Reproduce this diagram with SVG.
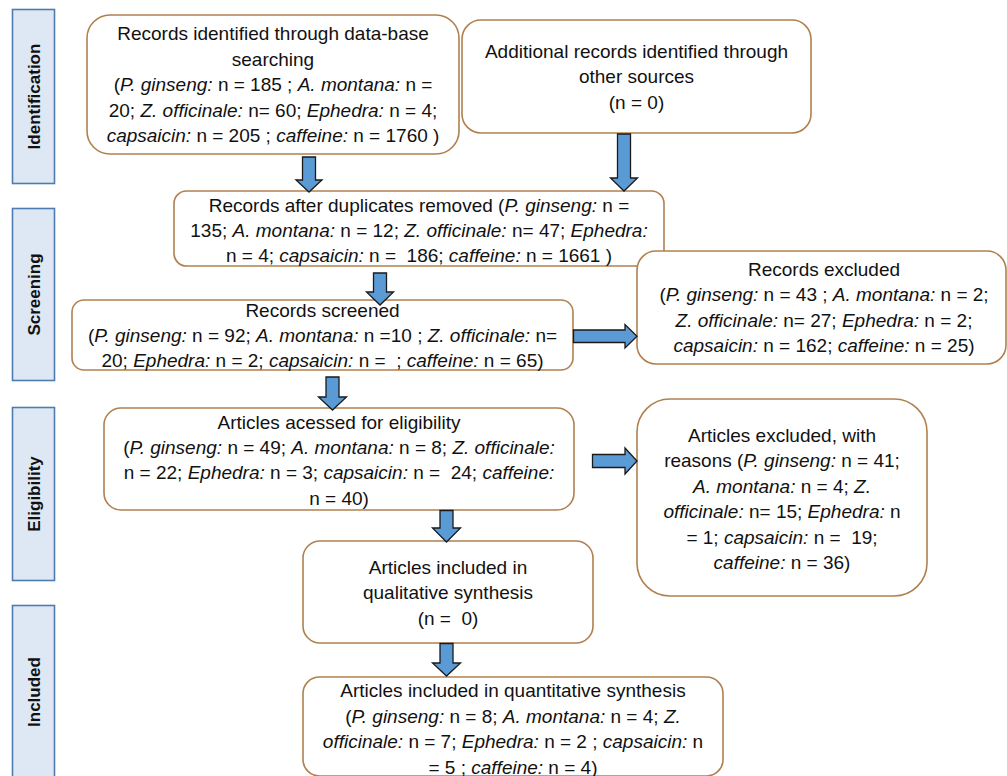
<svg xmlns="http://www.w3.org/2000/svg" width="1007" height="776" viewBox="0 0 1007 776">
<style>
.lab rect{fill:#DDE8F4;stroke:#4E7CB0;stroke-width:1.6}
.lab text{font-family:"Liberation Sans",Arial,sans-serif;font-weight:bold;font-size:17px;fill:#111;text-anchor:middle}
.box rect{fill:#fff;stroke:#B0804F;stroke-width:1.6}
.box text{font-family:"Liberation Sans",Arial,sans-serif;font-size:19px;fill:#111;text-anchor:middle;white-space:pre}
.i{font-style:italic}
.arr path{fill:#5B9BD5;stroke:#1a1a1a;stroke-width:1.3;stroke-linejoin:miter}
</style>
<rect width="1007" height="776" fill="#fff"/>
<g class="lab" id="lab-identification"><rect x="12.5" y="9.5" width="42" height="174"/><text transform="translate(40,96.5) rotate(-90)">Identification</text></g>
<g class="lab" id="lab-screening"><rect x="12.5" y="208.5" width="42" height="172"/><text transform="translate(40,294.5) rotate(-90)">Screening</text></g>
<g class="lab" id="lab-eligibility"><rect x="12.5" y="407.5" width="42" height="173"/><text transform="translate(40,494) rotate(-90)">Eligibility</text></g>
<g class="lab" id="lab-included"><rect x="12.5" y="605.5" width="42" height="180"/><text transform="translate(40,692) rotate(-90)">Included</text></g>

<g class="box" id="n-db"><rect x="87" y="15" width="372" height="139" rx="23"/>
<text x="273" y="40">Records identified through data-base</text>
<text x="273" y="65.5">searching</text>
<text x="273" y="91">(<tspan class="i">P. ginseng:</tspan> n = 185 ; <tspan class="i">A. montana:</tspan> n =</text>
<text x="273" y="116.5">20; <tspan class="i">Z. officinale:</tspan> n= 60; <tspan class="i">Ephedra:</tspan> n = 4;</text>
<text x="273" y="142"><tspan class="i">capsaicin:</tspan> n = 205 ; <tspan class="i">caffeine:</tspan> n = 1760 )</text>
</g>
<g class="box" id="n-other"><rect x="462" y="20" width="349" height="113" rx="19"/>
<text x="636.5" y="57.5">Additional records identified through</text>
<text x="636.5" y="83">other sources</text>
<text x="636.5" y="108.5">(n = 0)</text>
</g>
<g class="box" id="n-dup"><rect x="174" y="191" width="490" height="75" rx="12.5"/>
<text x="419" y="211.5">Records after duplicates removed (<tspan class="i">P. ginseng:</tspan> n =</text>
<text x="419" y="236.5">135; <tspan class="i">A. montana:</tspan> n = 12; <tspan class="i">Z. officinale:</tspan> n= 47; <tspan class="i">Ephedra:</tspan></text>
<text x="419" y="261.5">n = 4; <tspan class="i">capsaicin:</tspan> n =  186; <tspan class="i">caffeine:</tspan> n = 1661 )</text>
</g>
<g class="box" id="n-screened"><rect x="72" y="300" width="501" height="70" rx="12"/>
<text x="322.5" y="317">Records screened</text>
<text x="322.5" y="342">(<tspan class="i">P. ginseng:</tspan> n = 92; <tspan class="i">A. montana:</tspan> n =10 ; <tspan class="i">Z. officinale:</tspan> n=</text>
<text x="322.5" y="367">20; <tspan class="i">Ephedra:</tspan> n = 2; <tspan class="i">capsaicin:</tspan> n =  ; <tspan class="i">caffeine:</tspan> n = 65)</text>
</g>
<g class="box" id="n-excluded"><rect x="637" y="251" width="369" height="113" rx="19"/>
<text x="824" y="275.5">Records excluded</text>
<text x="824" y="301">(<tspan class="i">P. ginseng:</tspan> n = 43 ; <tspan class="i">A. montana:</tspan> n = 2;</text>
<text x="824" y="326.5"><tspan class="i">Z. officinale:</tspan> n= 27; <tspan class="i">Ephedra:</tspan> n = 2;</text>
<text x="824" y="352"><tspan class="i">capsaicin:</tspan> n = 162; <tspan class="i">caffeine:</tspan> n = 25)</text>
</g>
<g class="box" id="n-eligibility"><rect x="104" y="408" width="470" height="102" rx="17"/>
<text x="339" y="428.5">Articles acessed for eligibility</text>
<text x="339" y="453.5">(<tspan class="i">P. ginseng:</tspan> n = 49; <tspan class="i">A. montana:</tspan> n = 8; <tspan class="i">Z. officinale:</tspan></text>
<text x="339" y="479">n = 22; <tspan class="i">Ephedra:</tspan> n = 3; <tspan class="i">capsaicin:</tspan> n =  24; <tspan class="i">caffeine:</tspan></text>
<text x="339" y="504.5">n = 40)</text>
</g>
<g class="box" id="n-art-excluded"><rect x="637" y="399" width="290" height="197" rx="33"/>
<text x="782" y="441.5">Articles excluded, with</text>
<text x="782" y="467">reasons (<tspan class="i">P. ginseng:</tspan> n = 41;</text>
<text x="782" y="492.5"><tspan class="i">A. montana:</tspan> n = 4; <tspan class="i">Z.</tspan></text>
<text x="782" y="518"><tspan class="i">officinale:</tspan> n= 15; <tspan class="i">Ephedra:</tspan> n</text>
<text x="782" y="543.5">= 1; <tspan class="i">capsaicin:</tspan> n =  19;</text>
<text x="782" y="569"><tspan class="i">caffeine:</tspan> n = 36)</text>
</g>
<g class="box" id="n-qual"><rect x="303" y="541" width="290" height="102" rx="17"/>
<text x="448" y="573.5">Articles included in</text>
<text x="448" y="599">qualitative synthesis</text>
<text x="448" y="624.5">(n =  0)</text>
</g>
<g class="box" id="n-quant"><rect x="303" y="677" width="420" height="99" rx="16.5"/>
<text x="513" y="696.5">Articles included in quantitative synthesis</text>
<text x="513" y="722.5">(<tspan class="i">P. ginseng:</tspan> n = 8; <tspan class="i">A. montana:</tspan> n = 4; <tspan class="i">Z.</tspan></text>
<text x="513" y="748"><tspan class="i">officinale:</tspan> n = 7; <tspan class="i">Ephedra:</tspan> n = 2 ; <tspan class="i">capsaicin:</tspan> n</text>
<text x="513" y="773.5">= 5 ; <tspan class="i">caffeine:</tspan> n = 4)</text>
</g>

<g class="arr" id="connectors">
<path d="M302.5,157 H315.5 V180 H322 L309,192 L296,180 H302.5 Z"/>
<path d="M617.5,134 H630.5 V178 H637.5 L624,191 L610.5,178 H617.5 Z"/>
<path d="M373.5,273 H386.5 V292 H393.5 L380,305 L366.5,292 H373.5 Z"/>
<path d="M326,377 H339 V397 H346.5 L332.5,410 L318.5,397 H326 Z"/>
<path d="M440,510.5 H453 V528 H460.5 L446.5,542 L432.5,528 H440 Z"/>
<path d="M440,643.5 H453 V663 H460.5 L446.5,676 L432.5,663 H440 Z"/>
<path d="M573.5,330 V342.5 H625 V348 L637,336.2 L625,324.5 V330 Z"/>
<path d="M592.5,454.5 V467.5 H625 V474 L637,461 L625,448 V454.5 Z"/>
</g>
</svg>
